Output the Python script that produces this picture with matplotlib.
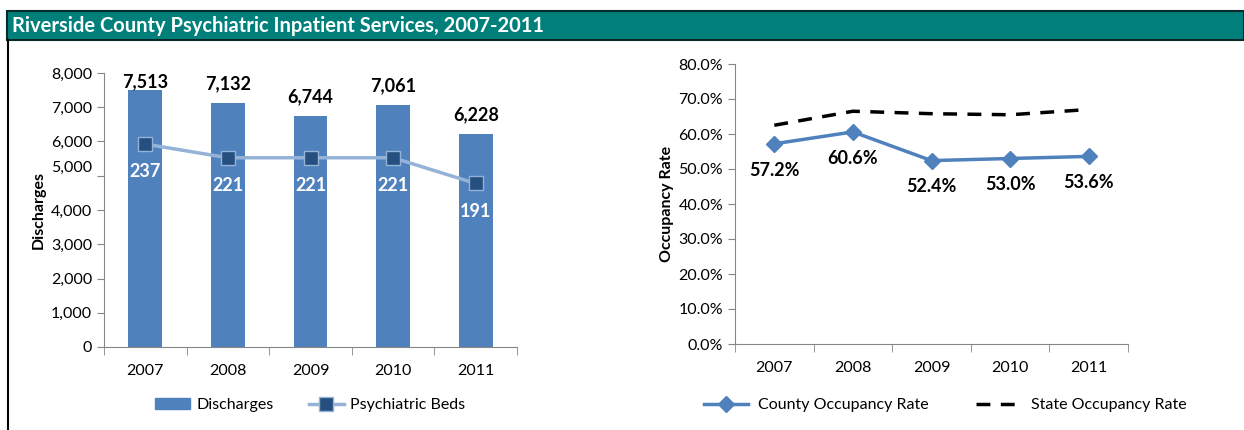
import numpy as np
import matplotlib.pyplot as plt
import matplotlib.transforms as mtransforms
from matplotlib.patches import Rectangle
from matplotlib.lines import Line2D

plt.rcParams['font.family'] = ['Lato', 'DejaVu Sans']

# data
years = ['2007', '2008', '2009', '2010', '2011']
discharges = [7513, 7132, 6744, 7061, 6228]
beds = [237, 221, 221, 221, 191]
county_rate = [57.2, 60.6, 52.4, 53.0, 53.6]
state_rate = [62.5, 66.5, 65.8, 65.5, 67.0]

W, H = 1244, 430
fig = plt.figure(figsize=(W / 100, H / 100), dpi=100)

# title bar
fig.patches.append(Rectangle((7 / W, 1 - 40 / H), 1 - 7 / W, 29 / H, transform=fig.transFigure,
                             facecolor='#007F7B', edgecolor='#0A2A2A', lw=1.5))
fig.text(12 / W, 1 - 26 / H, 'Riverside County Psychiatric Inpatient Services, 2007-2011',
         color='white', fontsize=14.5, fontweight='bold', va='center', ha='left')
fig.add_artist(Line2D([8 / W, 8 / W], [0, 1 - 40 / H], transform=fig.transFigure, color='black', lw=1.5))

grey = '#868686'
x = np.arange(len(years))
fs = 11.5


def style_axis(ax):
    for s in ['top', 'right']:
        ax.spines[s].set_visible(False)
    ax.spines['left'].set_color(grey)
    ax.spines['bottom'].set_color(grey)
    ax.set_xlim(-0.5, len(years) - 0.5)
    ax.set_xticks(x)
    ax.set_xticklabels(years, fontsize=fs)
    ax.tick_params(axis='x', length=0, pad=12)
    ax.set_xticks(np.arange(-0.5, len(years)), minor=True)
    ax.tick_params(axis='x', which='minor', length=6, color=grey, direction='out')
    ax.tick_params(axis='y', length=5, color=grey, labelsize=fs)


# left chart
ax1 = fig.add_axes([104 / W, 1 - 347 / H, 413 / W, 274 / H])
ax1.bar(x, discharges, width=0.41, color='#4F81BD', zorder=2)
ax1.set_ylim(0, 8000)
ax1.set_yticks(np.arange(0, 8001, 1000))
ax1.set_yticklabels([f'{v:,}' for v in range(0, 8001, 1000)])
style_axis(ax1)
ax1.set_ylabel('Discharges', fontsize=fs, fontweight='bold', labelpad=4)
# label offset glitch on 5,000 as in the reference
for lbl in ax1.get_yticklabels():
    if lbl.get_text() == '5,000':
        lbl.set_transform(lbl.get_transform() + mtransforms.ScaledTranslation(0, 9 / 100, fig.dpi_scale_trans))
for xi, v in zip(x, discharges):
    ytxt = min(v + 560, 7730)
    ax1.text(xi, ytxt, f'{v:,}', ha='center', va='center', fontsize=13, fontweight='bold', zorder=4)

ax1b = ax1.twinx()
ax1b.set_ylim(0, 320)
ax1b.axis('off')
ax1b.plot(x, beds, color='#95B3D7', lw=2.5, marker='s', ms=10, mfc='#254F7E', mec='#95B3D7', mew=1, zorder=3)
for xi, v in zip(x, beds):
    ax1b.annotate(str(v), (xi, v), xytext=(0, -20), textcoords='offset points', ha='center', va='center',
                  color='white', fontsize=13, fontweight='bold')

h1 = [Rectangle((0, 0), 1, 1, color='#4F81BD'),
      Line2D([], [], color='#95B3D7', lw=2.5, marker='s', ms=10, mfc='#254F7E', mec='#95B3D7')]
fig.legend(h1, ['Discharges', 'Psychiatric Beds'], loc='center', bbox_to_anchor=(310 / W, 1 - 405 / H),
           ncol=2, frameon=False, fontsize=fs, handlelength=2.2, columnspacing=2.2, handletextpad=0.4)

# right chart
ax2 = fig.add_axes([735 / W, 1 - 344 / H, 393 / W, 280 / H])
ax2.plot(x, state_rate, color='black', lw=2.5, ls=(0, (4, 3)))
ax2.plot(x, county_rate, color='#4F81BD', lw=2.5, marker='D', ms=8, mfc='#4F81BD', mec='#4F81BD')
ax2.set_ylim(0, 80)
ax2.set_yticks(np.arange(0, 81, 10))
ax2.set_yticklabels([f'{v:.1f}%' for v in range(0, 81, 10)])
style_axis(ax2)
ax2.set_ylabel('Occupancy Rate', fontsize=fs, fontweight='bold', labelpad=3)
for xi, v in zip(x, county_rate):
    ax2.annotate(f'{v:.1f}%', (xi, v), xytext=(0, -19), textcoords='offset points', ha='center', va='center',
                 fontsize=13, fontweight='bold')

h2 = [Line2D([], [], color='#4F81BD', lw=2.5, marker='D', ms=8),
      Line2D([], [], color='black', lw=2.5, ls=(0, (4, 3)))]
fig.legend(h2, ['County Occupancy Rate', 'State Occupancy Rate'], loc='center',
           bbox_to_anchor=(945 / W, 1 - 405 / H), ncol=2, frameon=False, fontsize=fs,
           handlelength=2.8, columnspacing=3.0, handletextpad=0.6)

fig.savefig('out.png', dpi=100)
